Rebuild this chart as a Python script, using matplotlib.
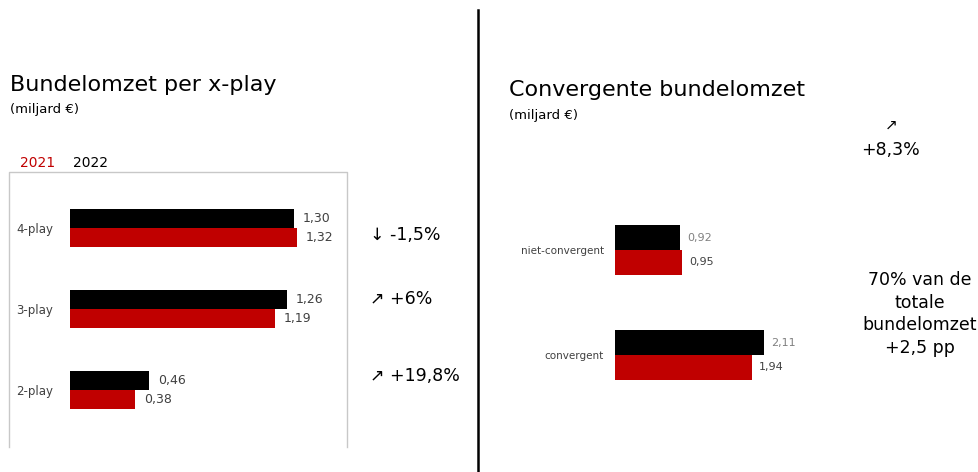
import matplotlib.pyplot as plt
from matplotlib.lines import Line2D
import numpy as np

# data
xplay_cat = ['2-play', '3-play', '4-play']
xplay_2022 = [0.46, 1.26, 1.30]
xplay_2021 = [0.38, 1.19, 1.32]
xplay_delta = ['\u2197 +19,8%', '\u2197 +6%', '\u2193 -1,5%']

conv_cat = ['convergent', 'niet-convergent']
conv_2022 = [2.11, 0.92]
conv_2021 = [1.94, 0.95]

rood = '#C00000'
zwart = '#000000'

W, H = 979, 472
fig = plt.figure(figsize=(W / 100, H / 100), dpi=100)


def px_ax(x0, y0, x1, y1):
    # axes from pixel rect (top-left origin)
    return fig.add_axes([x0 / W, 1 - y1 / H, (x1 - x0) / W, (y1 - y0) / H])


def txt(x, y, s, **kw):
    fig.text(x / W, 1 - y / H, s, **kw)


def fmt(v):
    return f'{v:.2f}'.replace('.', ',')


# ---------- links ----------
txt(10, 85, 'Bundelomzet per x-play', fontsize=16, va='center')
txt(10, 110, '(miljard \u20ac)', fontsize=9.5, va='center')
txt(20, 163, '2021', fontsize=10, color=rood, va='center')
txt(73, 163, '2022', fontsize=10, color=zwart, va='center')

# grijze kader
fig.add_artist(Line2D([9 / W, 9 / W, 347 / W, 347 / W],
                      [1 - 447 / H, 1 - 172 / H, 1 - 172 / H, 1 - 447 / H],
                      color='#c8c8c8', lw=1))

ax1 = px_ax(70, 180, 340, 440)
y = np.arange(len(xplay_cat))
h = 0.235
ax1.barh(y + h / 2, xplay_2022, height=h, color=zwart)
ax1.barh(y - h / 2, xplay_2021, height=h, color=rood)
for i in range(len(y)):
    ax1.text(xplay_2022[i] + 0.05, y[i] + h / 2, fmt(xplay_2022[i]),
             va='center', fontsize=9, color='#404040')
    ax1.text(xplay_2021[i] + 0.05, y[i] - h / 2, fmt(xplay_2021[i]),
             va='center', fontsize=9, color='#404040')
ax1.set_xlim(0, 270 / 172.3)
ax1.set_ylim(-50 / 81, 2 + 48 / 81)
ax1.set_yticks(y)
ax1.set_yticklabels(xplay_cat, fontsize=8.5, color='#404040')
ax1.tick_params(axis='y', length=0, pad=12)
ax1.set_xticks([])
for s in ax1.spines.values():
    s.set_visible(False)
ax1.patch.set_visible(False)

for ypix, d in zip([376, 299, 235], xplay_delta):
    txt(370, ypix, d, fontsize=12.5, va='center')

# scheidingslijn
fig.add_artist(Line2D([478 / W, 478 / W], [1 - 10 / H, 0], color='black', lw=1.8))

# ---------- rechts ----------
txt(509, 90, 'Convergente bundelomzet', fontsize=16, va='center')
txt(509, 115, '(miljard \u20ac)', fontsize=9.5, va='center')
txt(891, 125, '\u2197', fontsize=11, ha='center', va='center')
txt(891, 150, '+8,3%', fontsize=12.5, ha='center', va='center')

ax2 = px_ax(615, 200, 800, 400)
y2 = np.arange(len(conv_cat))
h2 = 0.238
ax2.barh(y2 + h2 / 2, conv_2022, height=h2, color=zwart)
ax2.barh(y2 - h2 / 2, conv_2021, height=h2, color=rood)
for i in range(len(y2)):
    ax2.text(conv_2022[i] + 0.1, y2[i] + h2 / 2, fmt(conv_2022[i]),
             va='center', fontsize=8, color='#808080')
    ax2.text(conv_2021[i] + 0.1, y2[i] - h2 / 2, fmt(conv_2021[i]),
             va='center', fontsize=8, color='#404040')
ax2.set_xlim(0, 185 / 70.6)
ax2.set_ylim(-45 / 105, 1 + 50 / 105)
ax2.set_yticks(y2)
ax2.set_yticklabels(conv_cat, fontsize=7.5, color='#404040')
ax2.tick_params(axis='y', length=0, pad=8)
ax2.set_xticks([])
for s in ax2.spines.values():
    s.set_visible(False)
ax2.patch.set_visible(False)

txt(920, 314, '70% van de\ntotale\nbundelomzet\n+2,5 pp', fontsize=12.5,
    ha='center', va='center', linespacing=1.35)

fig.savefig('out.png', dpi=100)
